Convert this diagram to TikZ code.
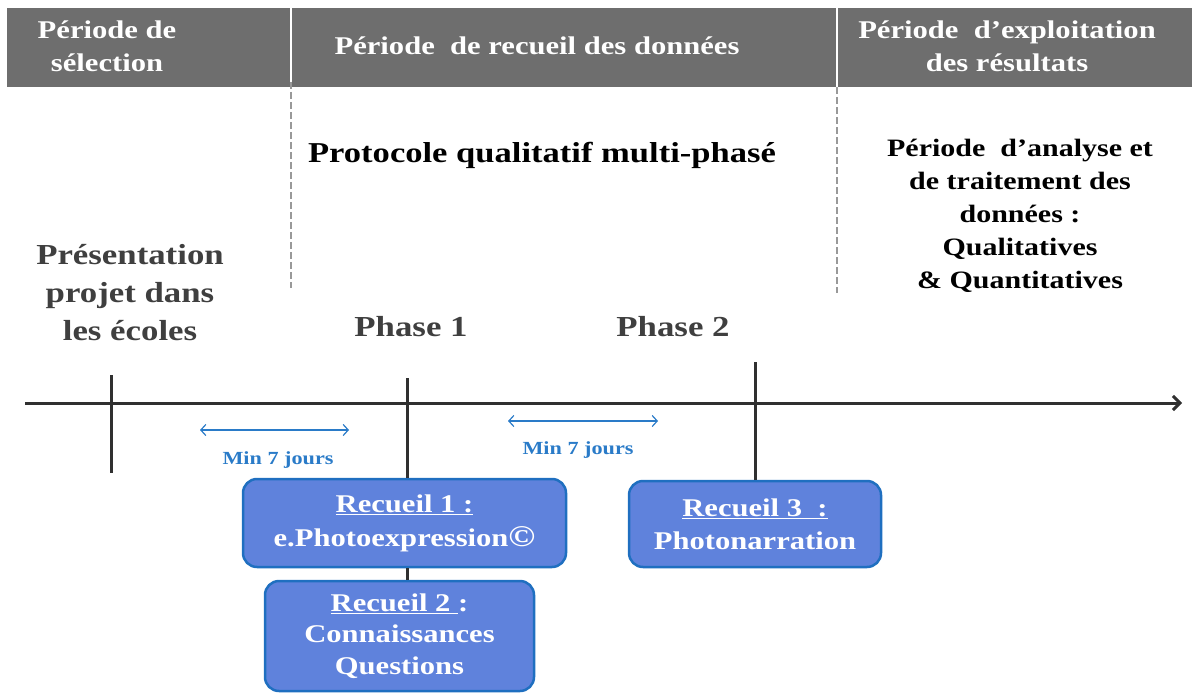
\documentclass[tikz,border=0pt]{standalone}
\usepackage{fontspec}
\setmainfont{Liberation Serif}[FakeStretch=1.2]
\usetikzlibrary{arrows.meta}
\definecolor{band}{HTML}{6E6E6E}
\definecolor{darktxt}{HTML}{3F3F3F}
\definecolor{boxfill}{HTML}{5F82DC}
\definecolor{boxline}{HTML}{1F6FC0}
\definecolor{minblue}{HTML}{2A7BC8}
\definecolor{tickc}{HTML}{303030}
\tikzset{
  headtxt/.style={text=white, font=\bfseries\fontsize{25.5}{33}\selectfont, align=center, inner sep=0pt},
  bigtxt/.style={text=darktxt, font=\bfseries\fontsize{29}{38}\selectfont, align=center, inner sep=0pt},
  anatxt/.style={text=black, font=\bfseries\fontsize{25}{33}\selectfont, align=center, inner sep=0pt},
  recbox/.style={draw=boxline, line width=2.5pt, fill=boxfill, rounded corners=14pt, text=white,
     font=\bfseries\fontsize{25.5}{33}\selectfont, align=center, inner sep=0pt},
  mintxt/.style={text=minblue, font=\bfseries\fontsize{18.5}{22}\selectfont, inner sep=0pt},
  minarrow/.style={draw=minblue, line width=1.2pt, {Straight Barb[length=5pt,width=11pt]}-{Straight Barb[length=5pt,width=11pt]}},
  tick/.style={draw=tickc, line width=3pt},
  sepdash/.style={draw=gray!80, line width=1.5pt, dash pattern=on 7pt off 3pt},
}
\begin{document}
\begin{tikzpicture}[x=1pt,y=-1pt]
\useasboundingbox (0,0) rectangle (1192,693);
% header band
\fill[band] (7,8) rectangle (1192,87);
\draw[white, line width=2.5pt] (291,8) -- (291,82);
\draw[white, line width=2.5pt] (837,8) -- (837,87);
\coordinate (s1a) at (291,82);
\coordinate (s1b) at (291,288);
\coordinate (s2a) at (837,87);
\coordinate (s2b) at (837,293);
\draw[sepdash] (s1a) -- (s1b);
\draw[sepdash] (s2a) -- (s2b);
\node[headtxt] (hsel) at (107,46) {Période de\\sélection};
\node[headtxt] (hrec) at (537,46) {Période~ de recueil des données};
\node[headtxt] (hexp) at (1007,46) {Période~ d’exploitation\\des résultats};
% texts
\node[text=black, font=\bfseries\fontsize{28.8}{32}\selectfont, inner sep=0pt] (proto) at (542,155) {Protocole qualitatif multi-phasé};
\node[anatxt] (ana) at (1020,216) {Période~ d’analyse et\\de traitement des\\données :\\Qualitatives\\\& Quantitatives};
\node[bigtxt] (pres) at (130,293) {Présentation\\projet dans\\les écoles};
\node[bigtxt] (ph1) at (411,327) {Phase 1};
\node[bigtxt] (ph2) at (673,327) {Phase 2};
% timeline
\coordinate (tl0) at (25,403);
\coordinate (tl1) at (1182,403);
\draw[tick, -{Straight Barb[length=7pt,width=14pt]}] (tl0) -- (tl1);
\coordinate (t0a) at (111,375);
\coordinate (t0b) at (111,473);
\draw[tick] (t0a) -- (t0b);
\coordinate (t1a) at (407,378);
\coordinate (t2a) at (755,362);
% boxes
\node[recbox, minimum width=323pt, minimum height=88pt, font=\bfseries\fontsize{25.5}{34}\selectfont] (r1) at (404.5,523) {\underline{Recueil 1 :}\\e.Photoexpression{\fontsize{30}{34}\selectfont©}};
\node[recbox, minimum width=269pt, minimum height=110pt, font=\bfseries\fontsize{25.5}{31.5}\selectfont] (r2) at (399.5,636) {\underline{Recueil 2 }:\\Connaissances\\Questions};
\node[recbox, minimum width=252pt, minimum height=86pt] (r3) at (755,524) {\underline{Recueil 3~ :}\\Photonarration};
\draw[tick] (t1a) -- (t1a |- r1.north);
\draw[tick] (r1.south -| t1a) -- (r2.north -| t1a);
\draw[tick] (t2a) -- (r3.north);
% min arrows
\coordinate (m1a) at (200,430);
\coordinate (m1b) at (349,430);
\draw[minarrow] (m1a) -- (m1b);
\node[mintxt] (m1t) at (278,460) {Min 7 jours};
\coordinate (m2a) at (508,421);
\coordinate (m2b) at (658,421);
\draw[minarrow] (m2a) -- (m2b);
\node[mintxt] (m2t) at (578,450) {Min 7 jours};
\end{tikzpicture}
\end{document}
